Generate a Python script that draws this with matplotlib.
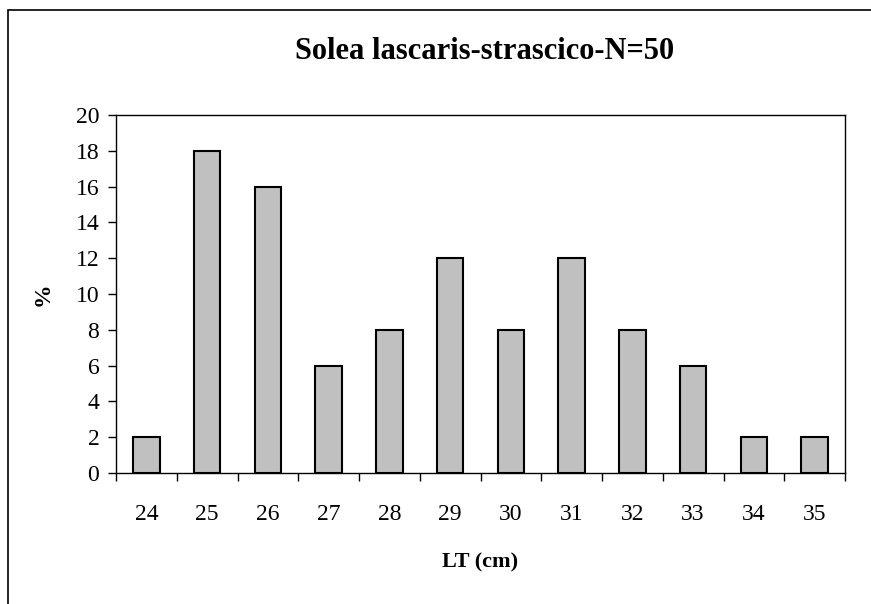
import matplotlib.pyplot as plt
from matplotlib.patches import Rectangle

lengths = ['24', '25', '26', '27', '28', '29', '30', '31', '32', '33', '34', '35']
percent = [2, 18, 16, 6, 8, 12, 8, 12, 8, 6, 2, 2]

plt.rcParams['font.family'] = ['Liberation Serif', 'DejaVu Serif']

fig = plt.figure(figsize=(8.71, 6.04), dpi=100)
ax = fig.add_axes([116 / 871, 1 - 473 / 604, (845 - 116) / 871, (473 - 115) / 604])

x = list(range(len(lengths)))
ax.bar(x, percent, width=0.435, color='#c0c0c0', edgecolor='black', linewidth=1.5, zorder=3)

ax.set_xlim(-0.5, len(lengths) - 0.5)
ax.set_ylim(0, 20)
ax.set_yticks(range(0, 21, 2))
ax.set_xticks(x)
ax.set_xticklabels(lengths)
ax.set_xticks([i - 0.5 for i in range(len(lengths) + 1)], minor=True)

ax.tick_params(axis='x', which='major', length=0, pad=22, labelsize=17)
ax.tick_params(axis='x', which='minor', length=6, width=1, direction='out')
ax.tick_params(axis='y', length=6, width=1, direction='out', pad=6, labelsize=17)

for s in ax.spines.values():
    s.set_linewidth(1)
    s.set_color('black')

ax.set_title('Solea lascaris-strascico-N=50', fontsize=22, fontweight='bold', pad=40, x=0.506)
ax.set_xlabel('LT (cm)', fontsize=16, fontweight='bold', labelpad=20)
ax.set_ylabel('%', fontsize=17, fontweight='bold', labelpad=16)

fig.add_artist(Rectangle((8 / 871, -0.5), 2, 1 - 10 / 604 + 0.5, transform=fig.transFigure,
                         fill=False, edgecolor='black', linewidth=1.2))

fig.savefig('out.png', dpi=100)
